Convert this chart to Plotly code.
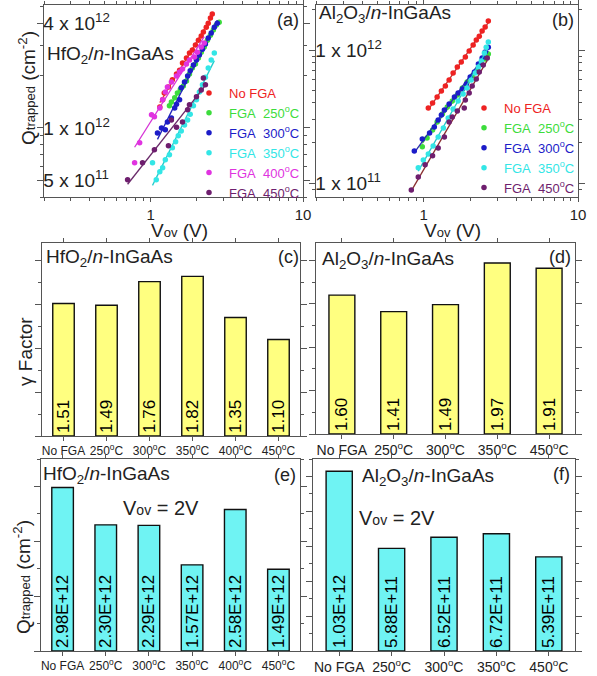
import numpy as np
import plotly.graph_objects as go

W, H = 597, 676
FONT = "Arial, 'Liberation Sans', sans-serif"

# ---------------- data ----------------
# Panel (a) HfO2/n-InGaAs : Vov (V) and Qtrapped (x1e12 cm^-2)
a_nofga_v = [1.15, 1.20, 1.23, 1.31, 1.39, 1.48, 1.55, 1.62, 1.72, 1.80, 1.88, 1.97, 2.06, 2.15, 2.22, 2.32, 2.39, 2.47, 2.54]
a_nofga_q = [1.32, 1.45, 1.59, 1.72, 1.89, 2.04, 2.15, 2.36, 2.53, 2.70, 2.81, 3.00, 3.20, 3.38, 3.56, 3.80, 4.01, 4.29, 4.52]
a_250_v = [1.33, 1.37, 1.44, 1.50, 1.57, 1.64, 1.72, 1.80, 1.88, 1.97, 2.06, 2.15, 2.25, 2.36, 2.47, 2.58, 2.70, 2.82]
a_250_q = [1.34, 1.41, 1.49, 1.59, 1.67, 1.74, 1.86, 2.04, 2.21, 2.33, 2.53, 2.73, 2.92, 3.20, 3.42, 3.66, 3.91, 4.06]
a_300_v = [1.11, 1.18, 1.25, 1.29, 1.37, 1.44, 1.48, 1.55, 1.59, 1.67, 1.75, 1.82, 1.91, 2.00, 2.09, 2.19, 2.29, 2.39, 2.50, 2.62, 2.74]
a_300_q = [0.936, 1.00, 0.974, 1.08, 1.14, 1.30, 1.37, 1.45, 1.70, 1.84, 1.99, 2.13, 2.30, 2.46, 2.63, 2.84, 3.04, 3.29, 3.52, 3.80, 4.01]
a_350_v = [1.03, 1.09, 1.15, 1.20, 1.25, 1.33, 1.39, 1.46, 1.52, 1.59, 1.67, 1.75, 1.82, 1.91, 2.00, 2.09, 2.19, 2.29, 2.39, 2.50, 2.62]
a_350_q = [0.629, 0.503, 0.559, 0.589, 0.655, 0.700, 0.768, 0.831, 0.900, 0.961, 1.04, 1.11, 1.20, 1.34, 1.45, 1.61, 1.77, 1.96, 2.21, 2.46, 2.70]
a_400_v = [0.786, 0.848, 1.015, 1.06, 1.15, 1.20, 1.25, 1.29, 1.37, 1.48, 1.55, 1.62, 1.72, 1.80, 1.94, 2.03, 2.15, 2.25]
a_400_q = [0.629, 0.820, 1.19, 1.16, 1.30, 1.45, 1.61, 1.72, 1.84, 1.99, 2.10, 2.18, 2.33, 2.46, 2.56, 2.73, 2.92, 3.08]
a_450_v = [0.707, 0.886, 1.06, 1.31, 1.37, 1.48, 1.62, 1.75, 1.80, 2.00, 2.15, 2.22, 2.29]
a_450_q = [0.503, 0.629, 0.748, 0.788, 1.11, 1.01, 1.08, 1.27, 1.36, 1.51, 1.65, 1.94, 1.77]

# Panel (b) Al2O3/n-InGaAs
b_nofga_v = [1.07, 1.14, 1.22, 1.30, 1.38, 1.46, 1.55, 1.65, 1.75, 1.86, 1.97, 2.09, 2.19, 2.29, 2.39, 2.50, 2.62]
b_nofga_q = [0.366, 0.400, 0.443, 0.492, 0.536, 0.595, 0.672, 0.745, 0.812, 0.886, 0.983, 1.09, 1.19, 1.27, 1.39, 1.49, 1.65]
b_250_v = [0.978, 1.05, 1.14, 1.22, 1.32, 1.42, 1.53, 1.65, 1.78, 1.91, 2.06, 2.22, 2.36, 2.50, 2.62]
b_250_q = [0.187, 0.218, 0.250, 0.288, 0.330, 0.373, 0.414, 0.459, 0.518, 0.575, 0.638, 0.708, 0.785, 0.856, 0.933]
b_300_v = [0.868, 0.978, 1.09, 1.17, 1.24, 1.30, 1.36, 1.46, 1.58, 1.67, 1.78, 1.89, 2.00, 2.13, 2.26, 2.39, 2.50, 2.62]
b_300_q = [0.174, 0.214, 0.238, 0.264, 0.298, 0.325, 0.354, 0.393, 0.443, 0.475, 0.509, 0.555, 0.627, 0.684, 0.785, 0.871, 0.966, 1.05]
b_350_v = [0.921, 0.993, 1.07, 1.15, 1.24, 1.34, 1.44, 1.55, 1.67, 1.80, 1.91, 2.03, 2.16, 2.26, 2.36, 2.47, 2.54, 2.62]
b_350_q = [0.130, 0.149, 0.165, 0.190, 0.222, 0.259, 0.308, 0.360, 0.414, 0.467, 0.518, 0.595, 0.672, 0.745, 0.827, 0.949, 1.05, 1.15]
b_450_v = [0.830, 0.921, 1.02, 1.14, 1.24, 1.36, 1.46, 1.53, 1.65, 1.83, 1.86, 1.97, 2.06, 2.19, 2.29, 2.43, 2.58]
b_450_q = [0.0886, 0.111, 0.137, 0.160, 0.183, 0.222, 0.288, 0.313, 0.348, 0.366, 0.421, 0.475, 0.536, 0.605, 0.684, 0.771, 0.871]

# Bar panels
cats_hfo2 = ["No FGA", "250<sup>o</sup>C", "300<sup>o</sup>C", "350<sup>o</sup>C", "400<sup>o</sup>C", "450<sup>o</sup>C"]
cats_al2o3 = ["No FGA", "250<sup>o</sup>C", "300<sup>o</sup>C", "350<sup>o</sup>C", "450<sup>o</sup>C"]
gamma_hfo2 = [1.51, 1.49, 1.76, 1.82, 1.35, 1.10]
gamma_al2o3 = [1.60, 1.41, 1.49, 1.97, 1.91]
qtrap_hfo2 = [2.98e12, 2.30e12, 2.29e12, 1.57e12, 2.58e12, 1.49e12]
qtrap_al2o3 = [1.03e12, 5.88e11, 6.52e11, 6.72e11, 5.39e11]

# ---------------- helpers ----------------
def fx(px):
    return px / W

def fy(py):
    return 1 - py / H

COL = {
    "nofga": "#ee2222", "250": "#3cdc3c", "300": "#1c1cc8",
    "350": "#33e6e6", "400": "#e033e0", "450": "#6e1e6e",
}
LINECOL_A = {"nofga": "#e03a3a", "250": "#33cc33", "300": "#2222bb",
             "350": "#22cccc", "400": "#d633d6", "450": "#6a2a6a"}
LINECOL_B = {"nofga": "#c03030", "250": "#44bb44", "300": "#2a2ab0",
             "350": "#22c8c8", "450": "#8a3030"}

LABEL = {
    "nofga": "No FGA",
    "250": "FGA&nbsp; 250<sup>o</sup>C", "300": "FGA&nbsp; 300<sup>o</sup>C",
    "350": "FGA&nbsp; 350<sup>o</sup>C", "400": "FGA&nbsp; 400<sup>o</sup>C",
    "450": "FGA&nbsp; 450<sup>o</sup>C",
}

fig = go.Figure()

def add_series(v, q, key, xa, ya, legend, linecol):
    v = np.array(v)
    q = np.array(q) * 1e12
    p = np.polyfit(np.log10(v), np.log10(q), 1)
    xx = np.array([v.min(), v.max()])
    yy = 10 ** np.polyval(p, np.log10(xx))
    fig.add_trace(go.Scatter(x=xx, y=yy, mode="lines", line=dict(color=linecol, width=1.3),
                             xaxis=xa, yaxis=ya, showlegend=False, hoverinfo="skip"))
    fig.add_trace(go.Scatter(x=v, y=q, mode="markers",
                             marker=dict(color=COL[key], size=5.5),
                             name=f"<span style='color:{COL[key]}'>{LABEL[key]}</span>",
                             xaxis=xa, yaxis=ya, legend=legend))

add_series(a_nofga_v, a_nofga_q, "nofga", "x", "y", "legend", LINECOL_A["nofga"])
add_series(a_250_v, a_250_q, "250", "x", "y", "legend", LINECOL_A["250"])
add_series(a_300_v, a_300_q, "300", "x", "y", "legend", LINECOL_A["300"])
add_series(a_350_v, a_350_q, "350", "x", "y", "legend", LINECOL_A["350"])
add_series(a_400_v, a_400_q, "400", "x", "y", "legend", LINECOL_A["400"])
add_series(a_450_v, a_450_q, "450", "x", "y", "legend", LINECOL_A["450"])

add_series(b_nofga_v, b_nofga_q, "nofga", "x2", "y2", "legend2", LINECOL_B["nofga"])
add_series(b_250_v, b_250_q, "250", "x2", "y2", "legend2", LINECOL_B["250"])
add_series(b_300_v, b_300_q, "300", "x2", "y2", "legend2", LINECOL_B["300"])
add_series(b_350_v, b_350_q, "350", "x2", "y2", "legend2", LINECOL_B["350"])
add_series(b_450_v, b_450_q, "450", "x2", "y2", "legend2", LINECOL_B["450"])

YELLOW = "#ffff80"
CYAN = "#6ff3f3"

def add_bars(cats, vals, fmt, color, xa, ya):
    fig.add_trace(go.Bar(x=cats, y=vals, width=0.5,
                         marker=dict(color=color, line=dict(color="#111", width=1.4)),
                         text=[fmt(v) for v in vals], textposition="inside",
                         textangle=-90, insidetextanchor="start",
                         textfont=dict(size=17, color="black", family=FONT),
                         xaxis=xa, yaxis=ya, showlegend=False, hoverinfo="skip"))

add_bars(cats_hfo2, gamma_hfo2, lambda v: f"{v:.2f}", YELLOW, "x3", "y3")
add_bars(cats_al2o3, gamma_al2o3, lambda v: f"{v:.2f}", YELLOW, "x4", "y4")
add_bars(cats_hfo2, qtrap_hfo2, lambda v: f"{v:.2E}", CYAN, "x5", "y5")
add_bars(cats_al2o3, qtrap_al2o3, lambda v: f"{v:.2E}", CYAN, "x6", "y6")

# ---------------- axes ----------------
LC = "#555555"
frame = dict(showline=True, linecolor=LC, linewidth=1.3, mirror="allticks",
             ticks="outside", tickcolor=LC, tickwidth=1.2, showgrid=False, zeroline=False,
             automargin=False)

logminor_x = [0.2, 0.3, 0.4, 0.5, 0.6, 0.7, 0.8, 0.9, 2, 3, 4, 5, 6, 7, 8, 9]

def xlog(dom, anchor):
    return dict(frame, domain=dom, anchor=anchor, type="log", range=[np.log10(0.2), 1],
                tickvals=[1, 10], ticktext=["1", "10"], ticklen=4,
                tickfont=dict(size=15, family=FONT, color="#222"),
                minor=dict(tickvals=logminor_x, ticklen=2.5, ticks="outside", tickcolor=LC))

def xcat(dom, anchor, n, size):
    return dict(frame, domain=dom, anchor=anchor, type="category", range=[-0.5, n - 0.5],
                ticklen=4, tickangle=0, ticklabelstandoff=-1,
                tickfont=dict(size=size, family=FONT, color="#222"))

def ybar(dom, anchor, rng, dtick, mdtick):
    return dict(frame, domain=dom, anchor=anchor, range=rng, dtick=dtick, ticklen=6,
                showticklabels=False,
                minor=dict(dtick=mdtick, ticklen=3, ticks="outside", tickcolor=LC))

fig.update_layout(
    xaxis=xlog([fx(44), fx(303)], "y"),
    yaxis=dict(frame, domain=[fy(197), fy(5)], anchor="x", type="log",
               range=[np.log10(4.0e11), np.log10(5.1e12)],
               tickvals=[5e11, 1e12, 4e12],
               ticktext=["5 x 10<sup>11</sup>", "1 x 10<sup>12</sup>", "4 x 10<sup>12</sup>"],
               ticklabelposition="inside", ticklen=6, ticklabeloverflow="allow",
               tickfont=dict(size=19, family=FONT, color="#222"),
               minor=dict(tickvals=[4e11, 6e11, 7e11, 8e11, 9e11, 2e12, 3e12, 5e12],
                          ticklen=3, ticks="outside", tickcolor=LC)),
    xaxis2=xlog([fx(316), fx(578)], "y2"),
    yaxis2=dict(frame, domain=[fy(197), fy(5)], anchor="x2", type="log",
                range=[np.log10(7.85e10), np.log10(2.18e12)],
                tickvals=[1e11, 1e12],
                ticktext=["1 x 10<sup>11</sup>", "1 x 10<sup>12</sup>"],
                ticklabelposition="inside", ticklen=6, ticklabeloverflow="allow",
                tickfont=dict(size=19, family=FONT, color="#222"),
                minor=dict(tickvals=[9e10, 2e11, 3e11, 4e11, 5e11, 6e11, 7e11, 8e11, 9e11, 2e12],
                           ticklen=3, ticks="outside", tickcolor=LC)),
    xaxis3=xcat([fx(42), fx(300)], "y3", 6, 12),
    yaxis3=ybar([fy(436), fy(243)], "x3", [0, 2.2], 0.5, 0.25),
    xaxis4=xcat([fx(316), fx(575)], "y4", 5, 14),
    yaxis4=ybar([fy(434), fy(243)], "x4", [0, 2.2], 0.5, 0.25),
    xaxis5=xcat([fx(41), fx(300)], "y5", 6, 12),
    yaxis5=ybar([fy(651), fy(459)], "x5", [0, 3.5e12], 1e12, 0.5e12),
    xaxis6=xcat([fx(313), fx(575)], "y6", 5, 14),
    yaxis6=ybar([fy(651), fy(459)], "x6", [0, 1.1e12], 0.2e12, 0.1e12),
)

leg_common = dict(bgcolor="rgba(0,0,0,0)", borderwidth=0, tracegroupgap=0,
                  font=dict(size=13, family=FONT), xanchor="left", yanchor="top",
                  itemclick=False, itemdoubleclick=False)
fig.update_layout(
    legend=dict(leg_common, x=fx(189), y=fy(78)),
    legend2=dict(leg_common, x=fx(464), y=fy(93)),
)

# ---------------- annotations ----------------
ann = []

def text(px, py, s, size=18, xanchor="center", angle=0, color="#222"):
    ann.append(dict(x=fx(px), y=fy(py), xref="paper", yref="paper", text=s, showarrow=False,
                    xanchor=xanchor, yanchor="middle", textangle=angle,
                    font=dict(size=size, family=FONT, color=color)))

HF = "HfO<sub>2</sub>/<i>n</i>-InGaAs"
AL = "Al<sub>2</sub>O<sub>3</sub>/<i>n</i>-InGaAs"
QT = "Q<span style='font-size:13px'>trapped</span> (cm<sup>-2</sup>)"
VOV = "V<span style='font-size:13px'>ov</span> (V)"

text(45, 55, HF, 19, "left")
text(288, 20, "(a)", 18)
text(317, 14, AL, 19, "left")
text(563, 20, "(b)", 18)
text(180, 230, VOV, 19)
text(452, 230, VOV, 19)
text(27, 88, QT, 19, angle=-90)

text(44, 258, HF, 19, "left")
text(288, 257, "(c)", 18)
text(320, 260, AL, 19, "left")
text(560, 257, "(d)", 18)
text(25, 352, "γ Factor", 19, angle=-90)

text(41, 475, HF, 19, "left")
text(285, 475, "(e)", 18)
text(161, 508, "V<span style='font-size:14px'>ov</span> = 2V", 20)
text(360, 477, AL, 19, "left")
text(561, 474, "(f)", 18)
text(397, 518, "V<span style='font-size:14px'>ov</span> = 2V", 20)
text(22, 577, QT, 19, angle=-90)

fig.update_layout(
    annotations=ann,
    width=W, height=H, margin=dict(l=0, r=0, t=0, b=0, autoexpand=False),
    paper_bgcolor="white", plot_bgcolor="white",
    font=dict(family=FONT, color="#222"),
    uniformtext=dict(minsize=17, mode="show"),
    showlegend=True,
)

fig.write_html("out.html", config={"displayModeBar": False},
               post_script="document.body.style.margin='0';document.body.style.padding='0';")
